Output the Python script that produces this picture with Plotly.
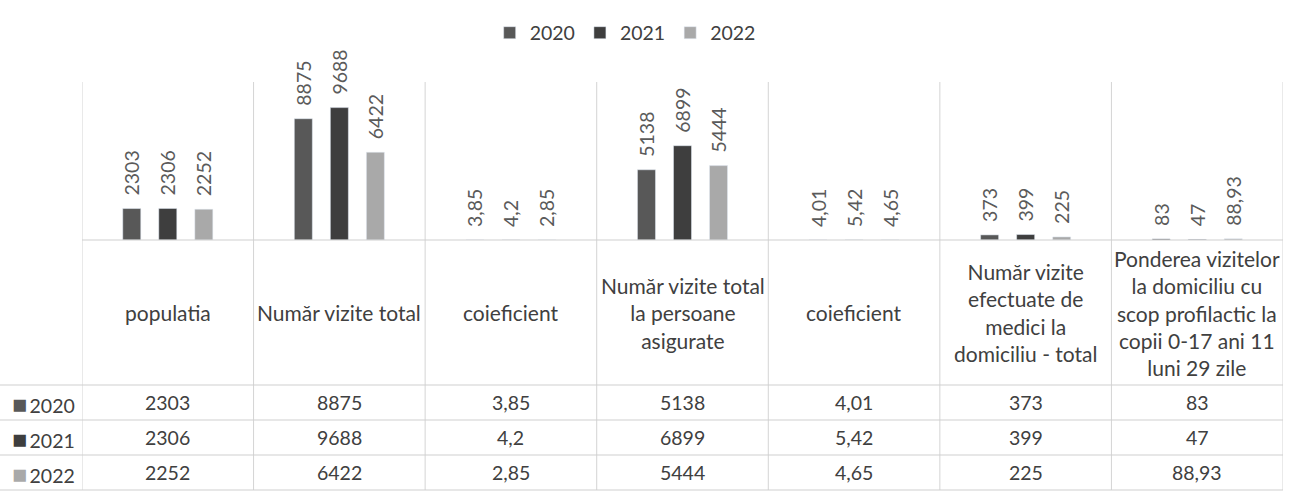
import plotly.graph_objects as go

# categorii (axa de jos / capul tabelului)
labels = [
    "populatia",
    "Număr vizite total",
    "coieficient",
    "Număr vizite total<br>la persoane<br>asigurate",
    "coieficient",
    "Număr vizite<br>efectuate de<br>medici la<br>domiciliu - total",
    "Ponderea vizitelor<br>la domiciliu cu<br>scop profilactic la<br>copii 0-17 ani 11<br>luni 29 zile",
]
years = ["2020", "2021", "2022"]
v2020 = [2303, 8875, 3.85, 5138, 4.01, 373, 83]
v2021 = [2306, 9688, 4.2, 6899, 5.42, 399, 47]
v2022 = [2252, 6422, 2.85, 5444, 4.65, 225, 88.93]
colors = ["#585858", "#3e3e3e", "#a9a9a9"]

W, H = 1289, 504
left, right = 82, 1283
plot_top, base = 76, 240
row_lines = [385, 420, 455, 490]
FONT = "Lato, 'Open Sans', sans-serif"
FS = 19.5


def fmt(v):
    # virgula zecimala, ca in original
    return str(v).replace(".", ",")


def py(p):
    # pixel de sus -> coordonata paper
    return 1 - p / H


series = [v2020, v2021, v2022]
xs = list(range(len(labels)))

fig = go.Figure()
for yr, vals, c in zip(years, series, colors):
    fig.add_trace(go.Bar(
        x=xs, y=vals, name=yr, marker_color=c,
        # spatii la inceput ca eticheta sa stea putin deasupra barei
        text=["\u00a0\u00a0" + fmt(v) for v in vals], textposition="outside", textangle=-90,
        constraintext="none", cliponaxis=False,
        textfont=dict(color="#5a5a5a", size=FS, family=FONT),
    ))

shapes = []
# linii verticale intre categorii (grafic + tabel)
for k in range(len(labels) + 1):
    shapes.append(dict(type="line", xref="x", yref="paper", x0=k - 0.5, x1=k - 0.5,
                       y0=py(row_lines[-1]), y1=py(plot_top + 6),
                       line=dict(color="#d4d4d4", width=1)))
# axa de baza
shapes.append(dict(type="line", xref="x", yref="paper", x0=-0.5, x1=len(labels) - 0.5,
                   y0=py(base), y1=py(base), line=dict(color="#cfcfcf", width=1)))
# liniile randurilor din tabel
for r in row_lines:
    shapes.append(dict(type="line", xref="paper", yref="paper", x0=0, x1=right / W,
                       y0=py(r), y1=py(r), line=dict(color="#cfcfcf", width=1)))

annotations = []
head_y = py((base + row_lines[0]) / 2)
for i, lab in enumerate(labels):
    annotations.append(dict(x=i, y=head_y, xref="x", yref="paper", text=lab,
                            showarrow=False, yanchor="middle", align="center",
                            font=dict(size=21, color="#404040", family=FONT)))
for r, (yr, vals, c) in enumerate(zip(years, series, colors)):
    yc = py((row_lines[r] + row_lines[r + 1]) / 2)
    annotations.append(dict(x=10 / W, y=yc, xref="paper", yref="paper", xanchor="left",
                            yanchor="middle",
                            text=f"<span style='color:{c};font-size:25px'>■</span>\u2009{yr}",
                            showarrow=False,
                            font=dict(size=FS, color="#404040", family=FONT)))
    for i, v in enumerate(vals):
        annotations.append(dict(x=i, y=yc, xref="x", yref="paper", text=fmt(v),
                                showarrow=False, yanchor="middle",
                                font=dict(size=FS, color="#404040", family=FONT)))

fig.update_layout(
    width=W, height=H,
    margin=dict(l=0, r=0, t=0, b=0),
    paper_bgcolor="white", plot_bgcolor="white",
    barmode="group", bargap=0.37, bargroupgap=0.5,
    font=dict(family=FONT, size=FS, color="#404040"),
    xaxis=dict(domain=[left / W, right / W], range=[-0.5, len(labels) - 0.5],
               showticklabels=False, showgrid=False, zeroline=False, fixedrange=True),
    yaxis=dict(domain=[py(base), py(plot_top)], range=[0, 12000], visible=False),
    legend=dict(orientation="h", x=0.485, xanchor="center", y=py(33), yanchor="middle",
                font=dict(size=FS, color="#404040", family=FONT), itemwidth=30),
    shapes=shapes,
    annotations=annotations,
)

fig.write_html("out.html", config={"displayModeBar": False},
               post_script="document.body.style.margin='0';")
